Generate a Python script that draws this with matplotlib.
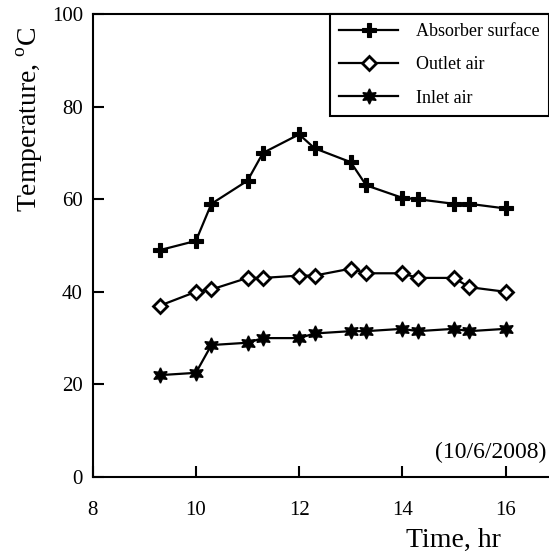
import numpy as np
import matplotlib
matplotlib.use('Agg')
import matplotlib.pyplot as plt

plt.rcParams['font.family'] = ['Liberation Serif', 'DejaVu Serif']
plt.rcParams['mathtext.fontset'] = 'custom'
plt.rcParams['mathtext.rm'] = 'Liberation Serif'

# Data
time_hr = [9.3, 10.0, 10.3, 11.0, 11.3, 12.0, 12.3, 13.0, 13.3, 14.0, 14.3, 15.0, 15.3, 16.0]
absorber = [49, 51, 59, 64, 70, 74, 71, 68, 63, 60.3, 60, 59, 59, 58]
outlet = [37, 40, 40.5, 43, 43, 43.5, 43.5, 45, 44, 44, 43, 43, 41, 40]
inlet = [22, 22.5, 28.5, 29, 30, 30, 31, 31.5, 31.5, 32, 31.5, 32, 31.5, 32]

fig = plt.figure(figsize=(5.49, 5.55), dpi=100)
ax = fig.add_axes([92.7 / 549, 1 - 477 / 555, 1 - 92.7 / 549, 463 / 555])

ax.plot(time_hr, absorber, color='black', lw=1.6, marker='P', ms=10,
        mfc='black', mec='black', mew=0.8, label='Absorber surface')
ax.plot(time_hr, outlet, color='black', lw=1.6, marker='D', ms=7,
        mfc='white', mec='black', mew=2, label='Outlet air')
ax.plot(time_hr, inlet, color='black', lw=1.6, marker=(6, 1, 0), ms=11,
        mfc='black', mec='black', label='Inlet air')

ax.set_xlim(8, 8 + (549 - 92.7) / 51.6)
ax.set_ylim(0, 100)
ax.set_xticks([8, 10, 12, 14, 16])
ax.set_yticks([0, 20, 40, 60, 80, 100])
ax.tick_params(direction='in', length=8, width=1.5, labelsize=15)
ax.tick_params(axis='x', pad=17)
ax.tick_params(axis='y', pad=7)
for s in ['left', 'bottom', 'top']:
    ax.spines[s].set_linewidth(1.5)
ax.spines['right'].set_visible(False)

ax.set_xlabel('Time, hr', fontsize=20)
ax.xaxis.label.set_va('center')
ax.xaxis.set_label_coords(0.79, -0.136)
ax.set_ylabel(r'Temperature, $^{\rm o}$C', fontsize=20)
ax.yaxis.set_label_coords(-0.105, 0.772)

ax.text(0.995, 0.052, '(10/6/2008)', transform=ax.transAxes, ha='right',
        va='center', fontsize=17)

leg = ax.legend(loc='upper right', fontsize=13, frameon=True, fancybox=False,
                edgecolor='black', framealpha=1, borderaxespad=0,
                handlelength=3.3, handletextpad=1.0, labelspacing=0.9,
                borderpad=0.5)
leg.get_frame().set_linewidth(1.5)

fig.savefig('out.png', dpi=100)
